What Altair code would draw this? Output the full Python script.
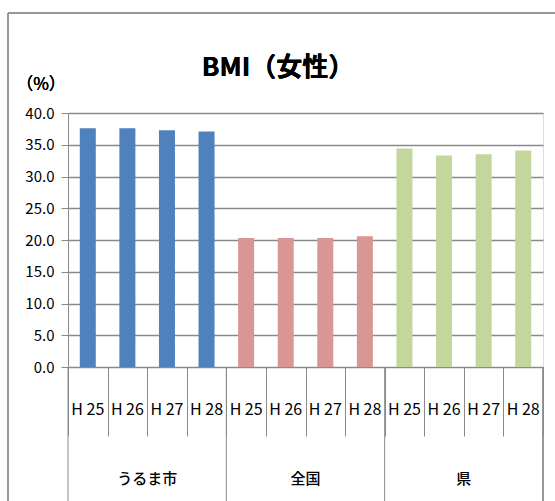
import altair as alt
import pandas as pd

# Source values (%)
groups = ["うるま市", "全国", "県"]
years = ["H 25", "H 26", "H 27", "H 28"]
uruma = [37.6, 37.6, 37.3, 37.1]
zenkoku = [20.3, 20.3, 20.3, 20.6]
ken = [34.4, 33.3, 33.5, 34.1]
colors = ["#4F81BD", "#D99694", "#C3D69B"]
y_ticks = [0, 5, 10, 15, 20, 25, 30, 35, 40]

series = [uruma, zenkoku, ken]
rows = []
for g, vals in zip(groups, series):
    for yr, v in zip(years, vals):
        rows.append({"group": g, "year": yr, "key": f"{g}|{yr}", "value": v})
df = pd.DataFrame(rows)
keys = list(df["key"])

W, H = 475, 254
FONT = "Liberation Sans Narrow, Noto Sans CJK JP, sans-serif"
CJK = "Noto Sans CJK JP, sans-serif"
GRID = "#8a8a8a"

xscale = alt.Scale(domain=keys, paddingInner=0, paddingOuter=0)

bars = alt.Chart(df).mark_bar(width=16).encode(
    x=alt.X("key:N", scale=xscale, sort=keys,
            axis=alt.Axis(title=None, labels=False, tickBand="extent",
                          tickSize=69, tickColor=GRID, tickWidth=1,
                          domain=False)),
    y=alt.Y("value:Q", scale=alt.Scale(domain=[0, 40], nice=False),
            axis=alt.Axis(title=None, values=y_ticks, format=".1f",
                          grid=True, gridColor=GRID, gridWidth=1.3,
                          domainColor=GRID, tickColor=GRID, tickSize=7,
                          labelPadding=7, labelFont=FONT, labelFontSize=15,
                          labelColor="#000000")),
    color=alt.Color("group:N", scale=alt.Scale(domain=groups, range=colors),
                    legend=None),
)

# Year labels under each bar
year_text = alt.Chart(df).mark_text(font=FONT, fontSize=16, baseline="middle",
                                    color="#000000").encode(
    x=alt.X("key:N", scale=xscale, sort=keys),
    y=alt.value(H + 43),
    text="year:N",
)

# Group separators reaching down to the bottom
gdf = pd.DataFrame({
    "key": [f"{g}|{years[0]}" for g in groups],
})
sep = alt.Chart(gdf).mark_rule(color=GRID, strokeWidth=1).encode(
    x=alt.X("key:N", scale=xscale, sort=keys, bandPosition=0),
    y=alt.value(H),
    y2=alt.value(H + 160),
)
right_edge = alt.Chart(gdf).mark_rule(color=GRID, strokeWidth=1).encode(
    x=alt.value(W), y=alt.value(H), y2=alt.value(H + 160),
)

# Group names centred on each group
glab = pd.DataFrame({
    "group": groups,
    "key": [f"{g}|{years[2]}" for g in groups],
})
group_text = alt.Chart(glab).mark_text(font=CJK, fontSize=15, fontWeight=500,
                                       baseline="middle", color="#000000").encode(
    x=alt.X("key:N", scale=xscale, sort=keys, bandPosition=0),
    y=alt.value(H + 112),
    text="group:N",
)

title = alt.Chart(glab).mark_text(text="BMI（女性）", font=CJK, fontSize=26,
                                  fontWeight="bold", baseline="middle",
                                  color="#000000").encode(
    x=alt.value(210), y=alt.value(-45),
)
unit = alt.Chart(glab).mark_text(text="（%）", font=CJK, fontSize=17,
                                 baseline="middle", color="#000000").encode(
    x=alt.value(-27), y=alt.value(-28),
)

# Outer frame of the chart
frame = alt.Chart(glab).mark_rect(fill=None, stroke=GRID, strokeWidth=1).encode(
    x=alt.value(-60), x2=alt.value(W + 40),
    y=alt.value(-100), y2=alt.value(H + 200),
)

chart = alt.layer(
    frame, bars, year_text, sep, right_edge, group_text, title, unit
).properties(
    width=W, height=H,
    padding={"left": 68, "top": 113, "right": 12, "bottom": 134},
    autosize=alt.AutoSizeParams(type="none"),
).configure_view(stroke=None).configure(background="#ffffff")

chart.save("out.html", embed_options={"renderer": "svg", "actions": False})
